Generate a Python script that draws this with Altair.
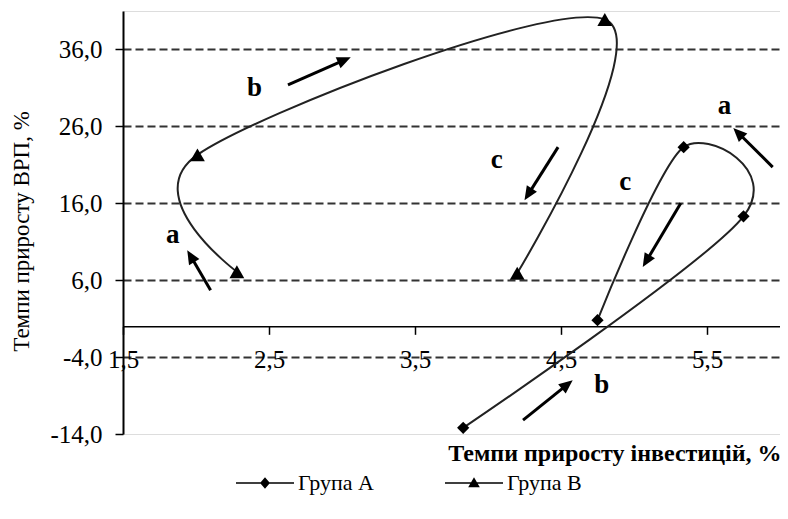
import math
import altair as alt
import pandas as pd

# ---------------- data ----------------
groups = ["Група А", "Група В"]

a_x = [3.83, 5.75, 5.34, 4.75]
a_y = [-13.2, 14.3, 23.3, 0.8]

b_x = [2.28, 2.01, 4.80, 4.20]
b_y = [7.1, 22.3, 39.9, 6.9]

x_ticks = [1.5, 2.5, 3.5, 4.5, 5.5]
y_ticks = [-14, -4, 6, 16, 26, 36]

# annotation arrows (tail -> tip) and their letters
arrow_x0 = [2.63, 2.10, 4.48, 5.32, 5.95, 4.24]
arrow_y0 = [31.4, 4.7, 23.3, 16.0, 20.7, -12.2]
arrow_x1 = [3.06, 1.94, 4.25, 5.06, 5.68, 4.58]
arrow_y1 = [35.0, 9.9, 16.4, 7.7, 25.8, -7.0]

label_txt = ["b", "a", "c", "c", "a", "b"]
label_x = [2.40, 1.84, 4.06, 4.94, 5.62, 4.78]
label_y = [31.0, 11.9, 21.6, 18.8, 28.7, -7.6]

# ---------------- layout ----------------
W, H = 657, 423
X_DOM = [1.5, 6.0]
Y_DOM = [-14, 41]
FONT = "Liberation Serif"
PX_X = W / (X_DOM[1] - X_DOM[0])
PX_Y = H / (Y_DOM[1] - Y_DOM[0])
AXIS_OFFSET = -(0 - Y_DOM[0]) * PX_Y

pts = pd.DataFrame({
    "group": [groups[0]] * len(a_x) + [groups[1]] * len(b_x),
    "step": list(range(len(a_x))) + list(range(len(b_x))),
    "x": a_x + b_x,
    "y": a_y + b_y,
})

# arrows: compute direction for arrow head, shorten shaft a little
shaft_rows, head_rows = [], []
for x0, y0, x1, y1 in zip(arrow_x0, arrow_y0, arrow_x1, arrow_y1):
    dx = (x1 - x0) * PX_X
    dy = -(y1 - y0) * PX_Y
    ang = math.degrees(math.atan2(dx, -dy)) % 360
    L = math.hypot(dx, dy)
    k = max(0.0, (L - 9) / L)
    shaft_rows.append({"x": x0, "y": y0, "xs": x0 + (x1 - x0) * k, "ys": y0 + (y1 - y0) * k})
    head_rows.append({"x": x1, "y": y1, "ang": ang})
shafts_df = pd.DataFrame(shaft_rows)
heads_df = pd.DataFrame(head_rows)

labels = pd.DataFrame({"t": label_txt, "x": label_x, "y": label_y})

num_fmt = "replace(replace(format(datum.value, '.1f'), '.', ','), '\u2212', '-')"
x_scale = alt.Scale(domain=X_DOM, nice=False, zero=False)
y_scale = alt.Scale(domain=Y_DOM, nice=False, zero=False)

x_axis = alt.Axis(
    values=x_ticks, labelExpr=num_fmt, offset=AXIS_OFFSET, grid=False,
    domainColor="black", domainWidth=1.5, tickColor="black", tickSize=8, tickWidth=1.5,
    labelFont=FONT, labelFontSize=25, labelColor="black", labelPadding=25,
    labelBaseline="middle", labelFlush=False, labelOverlap=False,
    title="Темпи приросту інвестицій, %", titleFont=FONT, titleFontSize=24,
    titleFontWeight="bold", titleColor="black", titleX=W + 1, titleY=127,
    titleAlign="right", titleBaseline="middle",
)
y_axis = alt.Axis(
    values=y_ticks, labelExpr=num_fmt, grid=True, gridDash=[8, 4], gridColor="#333",
    gridWidth=2, gridOpacity={"condition": {"test": "datum.value === -14", "value": 0}, "value": 1},
    domainColor="black", domainWidth=2, tickColor="black", tickSize=8, tickWidth=1.5,
    labelFont=FONT, labelFontSize=25, labelColor="black", labelPadding=13, labelFlush=False,
    labelOverlap=False,
    title="Темпи приросту ВРП, %", titleFont=FONT, titleFontSize=23, titleFontWeight="normal",
    titleColor="black", titleX=-102, titleY=220, titleBaseline="middle", titleAngle=270,
)

X = alt.X("x:Q", scale=x_scale, axis=x_axis)
Y = alt.Y("y:Q", scale=y_scale, axis=y_axis)
Xn = alt.X("x:Q", scale=x_scale)
Yn = alt.Y("y:Q", scale=y_scale)

lines = alt.Chart(pts).mark_line(interpolate="cardinal", tension=0, color="#222",
                                 strokeWidth=2).encode(
    x=X, y=Y, detail="group:N", order="step:Q")

pts_a = alt.Chart(pts).transform_filter(alt.datum.group == groups[0]).mark_point(
    shape="diamond", size=150, filled=True, color="black", opacity=1).encode(x=Xn, y=Yn)
pts_b = alt.Chart(pts).transform_filter(alt.datum.group == groups[1]).mark_point(
    shape="triangle-up", size=220, filled=True, color="black", opacity=1).encode(x=Xn, y=Yn)

bar = "M-1,-0.03L1,-0.03L1,0.03L-1,0.03Z"
path_a = bar + "M0,-0.2L0.17,0L0,0.2L-0.17,0Z"
path_b = bar + "M0,-0.2L0.2,0.15L-0.2,0.15Z"
legend_layer = alt.Chart(pts).mark_point(filled=True, color="black", opacity=0).encode(
    x=Xn, y=Yn,
    shape=alt.Shape("group:N", scale=alt.Scale(domain=groups, range=[path_a, path_b]),
                    legend=alt.Legend(
                        orient="none", legendX=112, legendY=442, direction="horizontal",
                        title=None, symbolSize=3364, symbolFillColor="black", symbolOpacity=1,
                        labelFont=FONT, labelFontSize=22, labelColor="black", labelOffset=3,
                        columnPadding=68, padding=0)),
)

shafts = alt.Chart(shafts_df).mark_rule(color="black", strokeWidth=3).encode(
    x=Xn, y=Yn, x2="xs:Q", y2="ys:Q")
head_path = "M0,0L-1,2.3L1,2.3Z"
heads = alt.Chart(heads_df).mark_point(shape=head_path, size=144, filled=True, color="black",
                                       opacity=1).encode(
    x=Xn, y=Yn, angle=alt.Angle("ang:Q", scale=None))

letters = alt.Chart(labels).mark_text(font=FONT, fontSize=27, fontWeight="bold",
                                      color="black").encode(x=Xn, y=Yn, text="t:N")

chart = alt.layer(lines, pts_a, pts_b, legend_layer, shafts, heads, letters).properties(
    width=W, height=H,
    autosize=alt.AutoSizeParams(type="none"),
    padding={"left": 115, "top": 3, "right": 0, "bottom": 77},
).configure_view(stroke="#999", strokeWidth=2).configure(background="white")

chart.save("out.html", embed_options={"renderer": "svg", "actions": False})
